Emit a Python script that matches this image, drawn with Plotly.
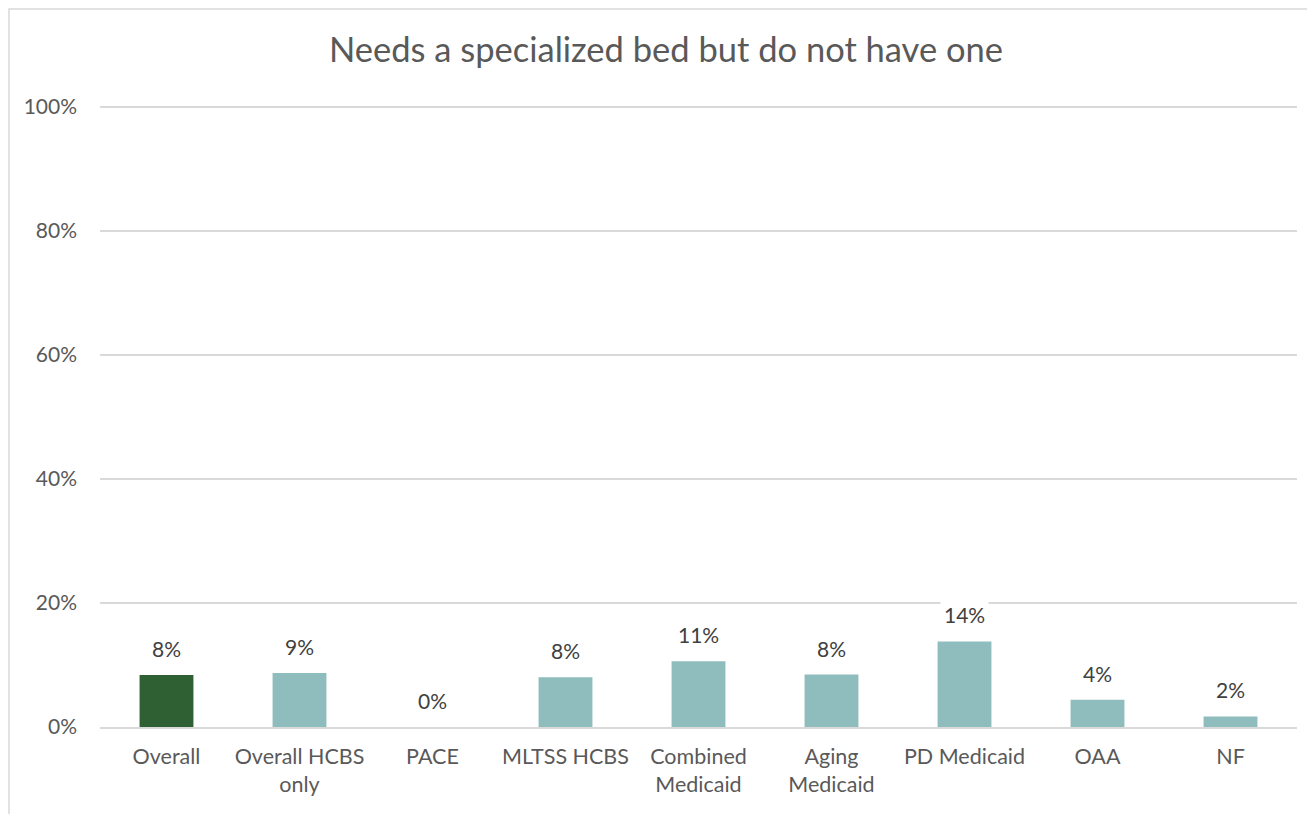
import plotly.graph_objects as go

# values (percent)
categories = ["Overall", "Overall HCBS<br>only", "PACE", "MLTSS HCBS", "Combined<br>Medicaid",
              "Aging<br>Medicaid", "PD Medicaid", "OAA", "NF"]
values = [8.4, 8.7, 0.0, 8.0, 10.6, 8.45, 13.8, 4.4, 1.7]
bar_colors = ["#2F6033"] + ["#8FBDBD"] * 8
y_ticks = [0, 20, 40, 60, 80, 100]

txt = "#595959"
font_fam = "Lato, 'Open Sans', sans-serif"

# page body has an 8px margin, so the figure is sized/offset to fit the window
W, H = 1307, 806

fig = go.Figure()
fig.add_trace(go.Bar(x=categories, y=values, marker=dict(color=bar_colors, line=dict(width=0)),
                     width=0.405, hoverinfo="skip"))

# data labels with white box so the gridline breaks behind them
for c, v in zip(categories, values):
    fig.add_annotation(x=c, y=v, text=f"{v:.0f}%", showarrow=False, yanchor="bottom",
                       yshift=10, bgcolor="white", borderpad=3,
                       font=dict(size=21, color="#404040", family=font_fam))

fig.update_layout(
    width=W, height=H,
    margin=dict(l=92, r=18, t=97, b=87),
    paper_bgcolor="white", plot_bgcolor="white",
    showlegend=False, bargap=0.6,
    title=dict(text="Needs a specialized bed but do not have one", x=(666 - 8) / W, xanchor="center",
               y=1 - 42 / H, yanchor="middle", yref="container",
               font=dict(size=34.5, color=txt, family=font_fam)),
    font=dict(family=font_fam, color=txt, size=21),
    shapes=[dict(type="rect", xref="paper", yref="paper", x0=-91 / 1197, x1=1.05,
                 y0=-0.5, y1=1 + 96 / 622, line=dict(color="#D9D9D9", width=1.5),
                 fillcolor="rgba(0,0,0,0)", layer="below")],
)
fig.update_xaxes(showgrid=False, showline=True, linecolor="#D9D9D9", linewidth=1.5,
                 ticks="", tickfont=dict(size=21.5, color=txt), ticklabelstandoff=9)
fig.update_yaxes(range=[0, 100.25], tickvals=y_ticks, ticktext=[f"{t}%" for t in y_ticks],
                 showgrid=True, gridcolor="#D9D9D9", gridwidth=1.5, zeroline=False,
                 showline=False, ticks="", tickfont=dict(size=21, color=txt),
                 ticklabelstandoff=22)

fig.write_html("out.html")
